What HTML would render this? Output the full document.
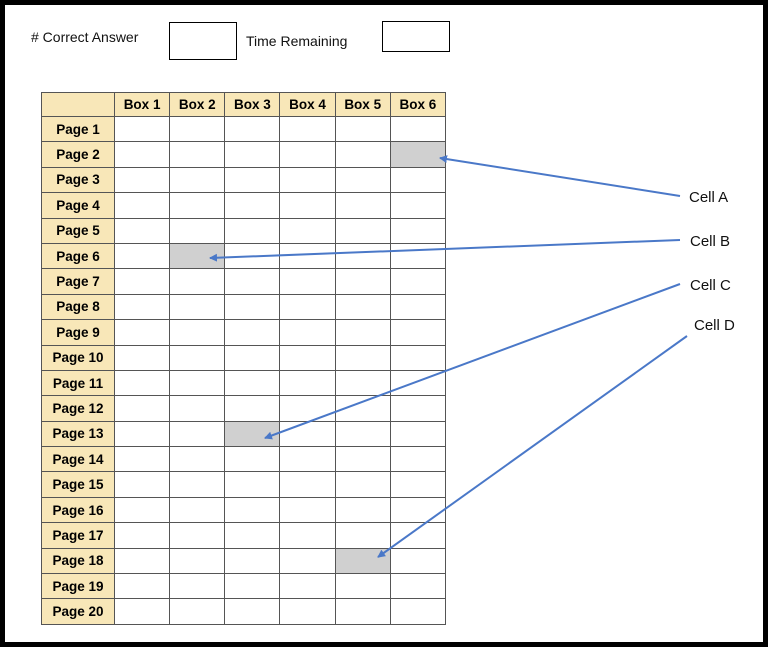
<!DOCTYPE html>
<html><head><style>
body{margin:0;width:768px;height:647px;overflow:hidden;background:#fff;font-family:"Liberation Sans",sans-serif}
.frame{position:absolute;left:0;top:0;width:758px;height:637px;border:5px solid #000}
.t{position:absolute;font-size:14px;color:#111}
.box{position:absolute;border:1.5px solid #000;background:#fff}
table{position:absolute;left:41px;top:92px;width:405px;height:532px;border-collapse:collapse;font-size:13.5px;font-weight:bold;table-layout:fixed}
td{border:1px solid #555;padding:0;text-align:center}
td.h{background:#f8e7b8}
td.g{background:#d0d0d0}
tr{height:25.4px}
tr.hd{height:24px}
</style></head><body>
<div class="frame"></div>
<div class="t" style="left:31px;top:29px">#&nbsp;Correct Answer</div>
<div class="box" style="left:169px;top:22px;width:66px;height:36px"></div>
<div class="t" style="left:246px;top:33px">Time Remaining</div>
<div class="box" style="left:382px;top:21px;width:66px;height:29px"></div>
<table>
<colgroup><col style="width:73px"><col><col><col><col><col><col></colgroup>
<tr class="hd"><td class="h"></td><td class="h">Box 1</td><td class="h">Box 2</td><td class="h">Box 3</td><td class="h">Box 4</td><td class="h">Box 5</td><td class="h">Box 6</td></tr>
<tr><td class="h">Page 1</td><td></td><td></td><td></td><td></td><td></td><td></td></tr>
<tr><td class="h">Page 2</td><td></td><td></td><td></td><td></td><td></td><td class="g"></td></tr>
<tr><td class="h">Page 3</td><td></td><td></td><td></td><td></td><td></td><td></td></tr>
<tr><td class="h">Page 4</td><td></td><td></td><td></td><td></td><td></td><td></td></tr>
<tr><td class="h">Page 5</td><td></td><td></td><td></td><td></td><td></td><td></td></tr>
<tr><td class="h">Page 6</td><td></td><td class="g"></td><td></td><td></td><td></td><td></td></tr>
<tr><td class="h">Page 7</td><td></td><td></td><td></td><td></td><td></td><td></td></tr>
<tr><td class="h">Page 8</td><td></td><td></td><td></td><td></td><td></td><td></td></tr>
<tr><td class="h">Page 9</td><td></td><td></td><td></td><td></td><td></td><td></td></tr>
<tr><td class="h">Page 10</td><td></td><td></td><td></td><td></td><td></td><td></td></tr>
<tr><td class="h">Page 11</td><td></td><td></td><td></td><td></td><td></td><td></td></tr>
<tr><td class="h">Page 12</td><td></td><td></td><td></td><td></td><td></td><td></td></tr>
<tr><td class="h">Page 13</td><td></td><td></td><td class="g"></td><td></td><td></td><td></td></tr>
<tr><td class="h">Page 14</td><td></td><td></td><td></td><td></td><td></td><td></td></tr>
<tr><td class="h">Page 15</td><td></td><td></td><td></td><td></td><td></td><td></td></tr>
<tr><td class="h">Page 16</td><td></td><td></td><td></td><td></td><td></td><td></td></tr>
<tr><td class="h">Page 17</td><td></td><td></td><td></td><td></td><td></td><td></td></tr>
<tr><td class="h">Page 18</td><td></td><td></td><td></td><td></td><td class="g"></td><td></td></tr>
<tr><td class="h">Page 19</td><td></td><td></td><td></td><td></td><td></td><td></td></tr>
<tr><td class="h">Page 20</td><td></td><td></td><td></td><td></td><td></td><td></td></tr>
</table>
<svg style="position:absolute;left:0;top:0" width="768" height="647">
<defs><marker id="a" markerWidth="8" markerHeight="8" refX="7" refY="4" orient="auto" markerUnits="userSpaceOnUse"><path d="M0,0 L8,4 L0,8 z" fill="#4a78c8"/></marker></defs>
<g stroke="#4a78c8" stroke-width="2" marker-end="url(#a)">
<line x1="680" y1="196" x2="440" y2="158"/>
<line x1="680" y1="240" x2="210" y2="258"/>
<line x1="680" y1="284" x2="265" y2="438"/>
<line x1="687" y1="336" x2="378" y2="557"/>
</g>
<g font-family="Liberation Sans,sans-serif" font-size="15" fill="#111">
<text x="689" y="202">Cell A</text>
<text x="690" y="246">Cell B</text>
<text x="690" y="290">Cell C</text>
<text x="694" y="330">Cell D</text>
</g>
</svg>
</body></html>
